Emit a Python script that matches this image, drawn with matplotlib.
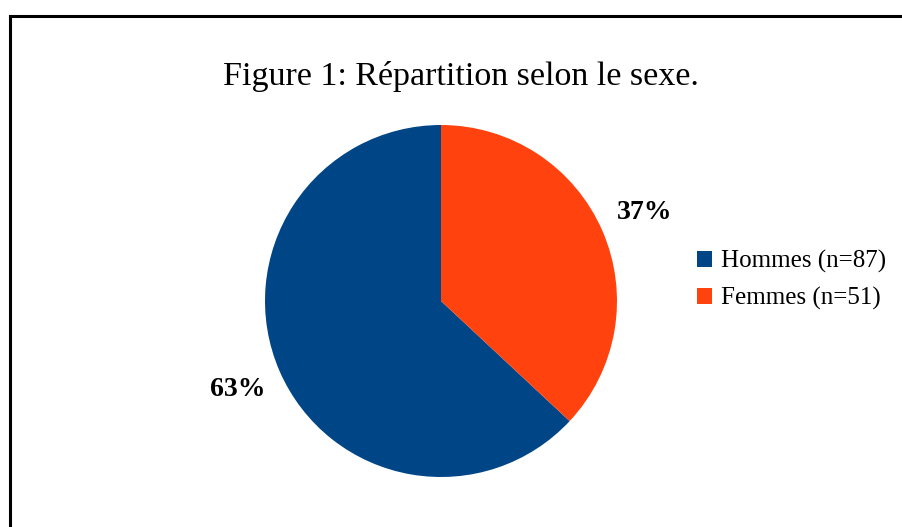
import matplotlib
matplotlib.use("Agg")
import matplotlib.pyplot as plt
from matplotlib.lines import Line2D
from matplotlib.patches import Patch

categories = ["Hommes (n=87)", "Femmes (n=51)"]
values = [87, 51]
colors = ["#004586", "#ff420e"]
title = "Figure 1: Répartition selon le sexe."

W, H = 903, 527
fig = plt.figure(figsize=(W / 100, H / 100), dpi=100)
fig.patch.set_facecolor("white")

serif = ["Liberation Serif", "DejaVu Serif"]

# frame
fig.add_artist(Line2D([10 / W, 10 / W], [0, 1 - 16 / H], color="black", lw=2.2, transform=fig.transFigure))
fig.add_artist(Line2D([10 / W, 1], [1 - 16 / H, 1 - 16 / H], color="black", lw=2.2, transform=fig.transFigure))

cx, cy, r = 441, H - 301, 176
ax = fig.add_axes([(cx - r) / W, (cy - r) / H, 2 * r / W, 2 * r / H])
wedges, texts, autotexts = ax.pie(
    values, colors=colors, startangle=90, counterclock=True, radius=1,
    autopct=lambda p: f"{p:.0f}%", pctdistance=1.26,
    wedgeprops=dict(linewidth=0),
    textprops=dict(family=serif, fontsize=20, fontweight="bold", color="black"),
)
ax.set_xlim(-1, 1)
ax.set_ylim(-1, 1)
ax.set_aspect("equal")
ax.axis("off")

fig.text(461 / W, 1 - 76 / H, title, ha="center", va="center", family=serif, fontsize=24.5)

handles = [Patch(facecolor=c, edgecolor="none", label=l) for c, l in zip(colors, categories)]
fig.legend(handles=handles, loc="center left", bbox_to_anchor=(697 / W, 1 - 280 / H),
           frameon=False, prop=dict(family=serif, size=18), handlelength=0.6,
           handleheight=0.6, handletextpad=0.36, labelspacing=0.55, borderaxespad=0,
           borderpad=0)

fig.savefig("out.png", dpi=100)
